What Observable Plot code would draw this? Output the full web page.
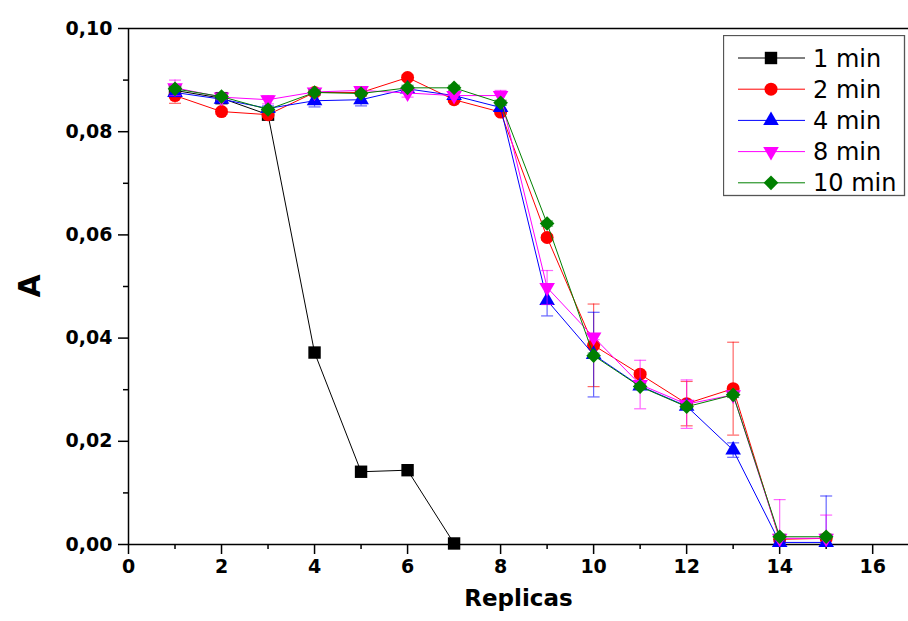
<!DOCTYPE html>
<html><head><meta charset="utf-8">
<script src="https://cdn.jsdelivr.net/npm/d3@7"></script>
<script src="https://cdn.jsdelivr.net/npm/@observablehq/plot@0.6"></script>
<style>
body{margin:0;background:#fff;}
#wrap{position:relative;width:908px;height:621px;overflow:hidden;}
#legend{position:absolute;left:723px;top:35px;}
</style></head><body><div id="wrap"></div>
<script>
// ---- data ----
const replicas = [1,2,3,4,5,6,7,8,9,10,11,12,13,14,15];
const seriesNames = ["1 min","2 min","4 min","8 min","10 min"];
const min1  = [0.0880,0.0865,0.0833,0.0372,0.0141,0.0144,0.0002];
const min2  = [0.0870,0.0839,0.0833,0.0876,0.0876,0.0905,0.0862,0.0838,0.0595,0.0386,0.0330,0.0273,0.0302,0.0010,0.0012];
const min4  = [0.0876,0.0863,0.0845,0.0860,0.0862,0.0883,0.0870,0.0847,0.0473,0.0368,0.0307,0.0268,0.0183,0.0004,0.0004];
const min8  = [0.0885,0.0867,0.0862,0.0877,0.0880,0.0875,0.0870,0.0870,0.0498,0.0402,0.0310,0.0272,0.0290,0.0012,0.0012];
const min10 = [0.0883,0.0868,0.0843,0.0876,0.0874,0.0885,0.0885,0.0856,0.0622,0.0366,0.0306,0.0267,0.0290,0.0015,0.0015];
const err1  = [0.0005,0.0005,0.0005,0,0,0,0];
const err2  = [0.0015,0.0005,0.0005,0.0005,0.0005,0.0005,0.0005,0.0005,0.0005,0.0080,0.0005,0.0043,0.0090,0.0005,0.0005];
const err4  = [0.0008,0.0005,0.0005,0.0012,0.0012,0.0005,0.0005,0.0005,0.0030,0.0082,0.0005,0.0005,0.0014,0.0003,0.0090];
const err8  = [0.0015,0.0005,0.0008,0.0005,0.0005,0.0008,0.0005,0.0010,0.0033,0.0005,0.0047,0.0047,0.0005,0.0075,0.0045];
const err10 = [0.0005,0.0005,0.0005,0.0005,0.0005,0.0005,0.0005,0.0005,0.0005,0.0005,0.0005,0.0005,0.0005,0.0005,0.0005];
const xTicks = [0,2,4,6,8,10,12,14,16];
const xMinor = [1,3,5,7,9,11,13,15];
const yTicks = [0,0.02,0.04,0.06,0.08,0.10];
const yMinor = [0.01,0.03,0.05,0.07,0.09];

// ---- styling ----
const values = [min1,min2,min4,min8,min10];
const errors = [err1,err2,err4,err8,err10];
const colors = ["#000000","#ff0000","#0000ff","#ff00ff","#008000"];
const symbols = [d3.symbolSquare, d3.symbolCircle, d3.symbolTriangle, d3.symbolTriangle, d3.symbolDiamond2];
const rotations = [0,0,0,180,0];
const radii = [7,6.5,5.8,5.8,6.6];
const capSymbol = {draw(ctx){ctx.moveTo(-6,0);ctx.lineTo(6,0);}};
const fmtY = d => d3.format(".2f")(d).replace(".", ",");

const marks = [];
values.forEach((vals, i) => {
  const data = vals.map((v, j) => ({x: replicas[j], y: v, e: errors[i][j]}));
  marks.push(Plot.line(data, {x: "x", y: "y", stroke: colors[i], strokeWidth: 1}));
  marks.push(Plot.dot(data, {x: "x", y: "y", symbol: symbols[i], r: radii[i], fill: colors[i], stroke: "none", rotate: rotations[i]}));
  const eb = data.filter(d => d.e > 0);
  marks.push(Plot.ruleX(eb, {x: "x", y1: d => d.y - d.e, y2: d => d.y + d.e, stroke: colors[i], strokeOpacity: 0.6, strokeWidth: 1.2, clip: true}));
  marks.push(Plot.dot(eb, {x: "x", y: d => d.y + d.e, symbol: capSymbol, r: 6, fill: "none", stroke: colors[i], strokeOpacity: 0.6, strokeWidth: 1.2, clip: true}));
  marks.push(Plot.dot(eb, {x: "x", y: d => d.y - d.e, symbol: capSymbol, r: 6, fill: "none", stroke: colors[i], strokeOpacity: 0.6, strokeWidth: 1.2, clip: true}));
});

const chart = Plot.plot({
  width: 908, height: 621,
  marginLeft: 128, marginRight: 0, marginTop: 28, marginBottom: 77,
  x: {domain: [0, 16.77]},
  y: {domain: [0, 0.1]},
  style: {fontFamily: "'DejaVu Sans', sans-serif", fontWeight: "bold", fontSize: "19px", background: "#fff", color: "#000"},
  marks: [
    Plot.axisX({ticks: xTicks, tickSize: 10, tickPadding: 5, tickFormat: d => String(d), label: null, strokeWidth: 1.5, fontSize: 19}),
    Plot.axisX({ticks: xMinor, tickSize: 5, tickFormat: () => "", label: null, strokeWidth: 1.5}),
    Plot.axisY({ticks: yTicks, tickSize: 10, tickPadding: 6, tickFormat: fmtY, label: null, strokeWidth: 1.5, fontSize: 19}),
    Plot.axisY({ticks: yMinor, tickSize: 5, tickFormat: () => "", label: null, strokeWidth: 1.5}),
    Plot.ruleX([0], {strokeWidth: 1.5}),
    Plot.ruleY([0, 0.1], {strokeWidth: 1.5}),
    ...marks,
    Plot.text(["Replicas"], {frameAnchor: "bottom", dy: 61, fontSize: 23, fontWeight: "bold"}),
    Plot.text(["A"], {frameAnchor: "left", dx: -98, dy: 11, rotate: -90, fontSize: 30, fontWeight: "bold"})
  ]
});
document.getElementById("wrap").appendChild(chart);

// ---- legend overlay ----
const lg = d3.select("#wrap").append("svg").attr("id", "legend")
  .attr("width", 183).attr("height", 162);
lg.append("rect").attr("x", 0.5).attr("y", 0.5).attr("width", 181).attr("height", 160)
  .attr("fill", "#fff").attr("stroke", "#555").attr("stroke-width", 1.3);
seriesNames.forEach((name, i) => {
  const cy = 23 + i * 31.2;
  const g = lg.append("g");
  g.append("line").attr("x1", 15).attr("x2", 82).attr("y1", cy).attr("y2", cy)
    .attr("stroke", colors[i]).attr("stroke-width", 1);
  g.append("path").attr("d", d3.symbol(symbols[i], radii[i] * radii[i] * Math.PI)())
    .attr("transform", `translate(48,${cy}) rotate(${rotations[i]})`).attr("fill", colors[i]);
  g.append("text").attr("x", 90).attr("y", cy).attr("dy", "0.36em")
    .attr("font-family", "'DejaVu Sans', sans-serif").attr("font-size", 24).text(name);
});
</script></body></html>
